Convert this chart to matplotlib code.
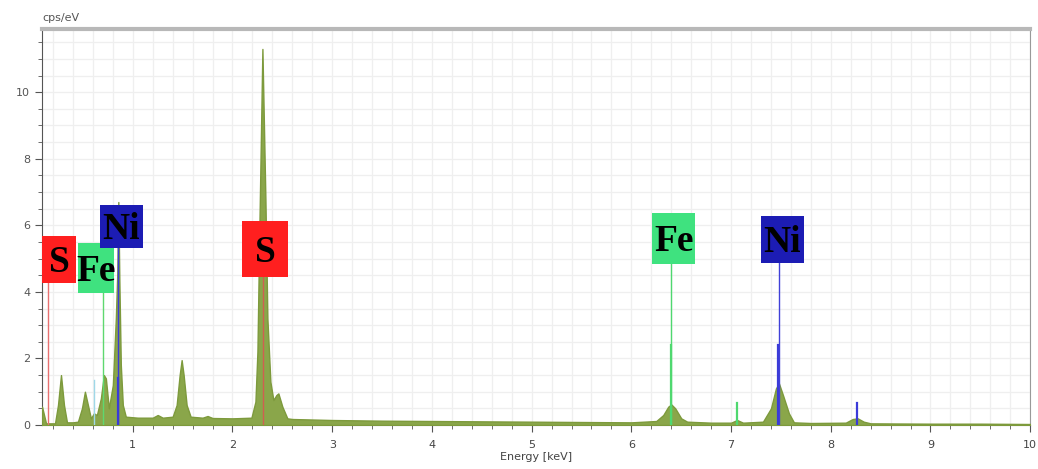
import numpy as np
import matplotlib

matplotlib.use("Agg")
import matplotlib.pyplot as plt
from matplotlib.patches import Rectangle
from matplotlib.ticker import MultipleLocator

# EDS spectrum, energy in keV vs counts in cps/eV
energy = [0.09, 0.11, 0.13, 0.20, 0.22, 0.25, 0.28, 0.31, 0.34, 0.40, 0.45, 0.49, 0.52, 0.55,
          0.58, 0.61, 0.64, 0.68, 0.71, 0.73, 0.76, 0.80, 0.83, 0.845, 0.855, 0.865, 0.88,
          0.90, 0.93, 1.05, 1.20, 1.25, 1.30, 1.40, 1.44, 1.47, 1.49, 1.51, 1.54, 1.58,
          1.70, 1.75, 1.80, 2.00, 2.19, 2.23, 2.25, 2.27, 2.30, 2.33, 2.35, 2.38, 2.41,
          2.44, 2.46, 2.50, 2.55, 2.60, 3.00, 3.50, 4.00, 4.50, 5.00, 5.50, 6.00, 6.25,
          6.32, 6.37, 6.40, 6.44, 6.50, 6.56, 6.80, 7.00, 7.06, 7.12, 7.32, 7.40, 7.45,
          7.48, 7.52, 7.58, 7.63, 7.80, 8.15, 8.22, 8.27, 8.33, 8.40, 9.00, 9.50, 10.0]
counts = [0.55, 0.30, 0.05, 0.05, 0.05, 0.60, 1.50, 0.60, 0.08, 0.08, 0.10, 0.50, 1.00, 0.60,
          0.20, 0.35, 0.30, 0.80, 1.50, 1.40, 0.50, 1.20, 3.20, 4.60, 6.70, 4.40, 1.80,
          0.60, 0.25, 0.22, 0.22, 0.30, 0.22, 0.25, 0.60, 1.50, 1.95, 1.50, 0.60, 0.25,
          0.22, 0.27, 0.21, 0.20, 0.22, 0.70, 2.20, 6.00, 11.3, 6.80, 3.20, 1.30, 0.75,
          0.90, 0.95, 0.55, 0.20, 0.18, 0.15, 0.13, 0.12, 0.11, 0.10, 0.09, 0.08, 0.12,
          0.30, 0.55, 0.62, 0.50, 0.20, 0.10, 0.07, 0.07, 0.15, 0.07, 0.10, 0.50, 1.10,
          1.25, 0.90, 0.35, 0.08, 0.06, 0.07, 0.18, 0.20, 0.10, 0.05, 0.04, 0.04, 0.03]

# element line markers (energy, height) drawn as thin bars
fe_lines = [(6.40, 2.4), (7.06, 0.65)]
ni_lines = [(7.47, 2.4), (8.26, 0.65), (0.85, 1.4)]
o_line = (0.615, 1.35)

# element labels: symbol, line energy, box (x0, x1, y0, y1) in data units
labels = [
    ("S", 0.149, (0.09, 0.43, 4.26, 5.68), "#ff1f1f", "#e87070"),
    ("Fe", 0.705, (0.45, 0.81, 3.96, 5.47), "#3fe27f", "#5fd86f"),
    ("Ni", 0.85, (0.67, 1.10, 5.32, 6.61), "#1c1cb4", "#3a3ad8"),
    ("S", 2.31, (2.10, 2.555, 4.44, 6.13), "#ff1f1f", "#d06050"),
    ("Fe", 6.40, (6.21, 6.64, 4.83, 6.37), "#3fe27f", "#4fd86f"),
    ("Ni", 7.48, (7.30, 7.73, 4.86, 6.28), "#1c1cb4", "#4040d8"),
]

fig = plt.figure(figsize=(10.38, 4.69), dpi=100)
ax = fig.add_axes([0.0405, 0.0938, 0.952, 0.8444])

ax.set_xlim(0.09, 10.0)
ax.set_ylim(0, 11.9)

ax.xaxis.set_major_locator(MultipleLocator(1))
ax.xaxis.set_minor_locator(MultipleLocator(0.2))
ax.yaxis.set_major_locator(MultipleLocator(2))
ax.yaxis.set_minor_locator(MultipleLocator(0.5))
ax.grid(which="both", color="#efefef", lw=0.9)
ax.set_axisbelow(True)

ax.fill_between(energy, counts, 0, color="#8aa64a", lw=1.0, edgecolor="#7d9a3c", zorder=3)

for e, h in fe_lines:
    ax.plot([e, e], [0, h], color="#4fd86f", lw=1.6, zorder=4)
for e, h in ni_lines:
    ax.plot([e, e], [0, h], color="#3a3ad8", lw=1.6, zorder=4)
ax.plot([o_line[0]] * 2, [0, o_line[1]], color="#9fd8e8", lw=1.0, zorder=4)

for sym, e, (x0, x1, y0, y1), face, lc in labels:
    ax.plot([e, e], [0, y0], color=lc, lw=1.0, zorder=4)
    ax.add_patch(Rectangle((x0, y0), x1 - x0, y1 - y0, facecolor=face,
                           edgecolor="none", zorder=5))
    ax.text((x0 + x1) / 2, (y0 + y1) / 2 - 0.1, sym, ha="center", va="center",
            family="Liberation Serif", weight="bold", fontsize=27, color="black", zorder=6)

ax.tick_params(which="both", direction="out", colors="#555555", labelsize=8)
ax.tick_params(which="major", length=5)
ax.tick_params(which="minor", length=3)
ax.tick_params(axis="x", labelcolor="#444444", pad=6)

ax.spines["top"].set_color("#b8b8b8")
ax.spines["top"].set_linewidth(3)
ax.spines["right"].set_color("#999999")
ax.spines["left"].set_color("#555555")
ax.spines["bottom"].set_color("#555555")

ax.set_xlabel("Energy [keV]", fontsize=8, color="#444444", labelpad=1)
fig.text(0.0405, 0.952, "cps/eV", fontsize=8, color="#555555", ha="left", va="bottom")

fig.savefig("out.png", dpi=100)
